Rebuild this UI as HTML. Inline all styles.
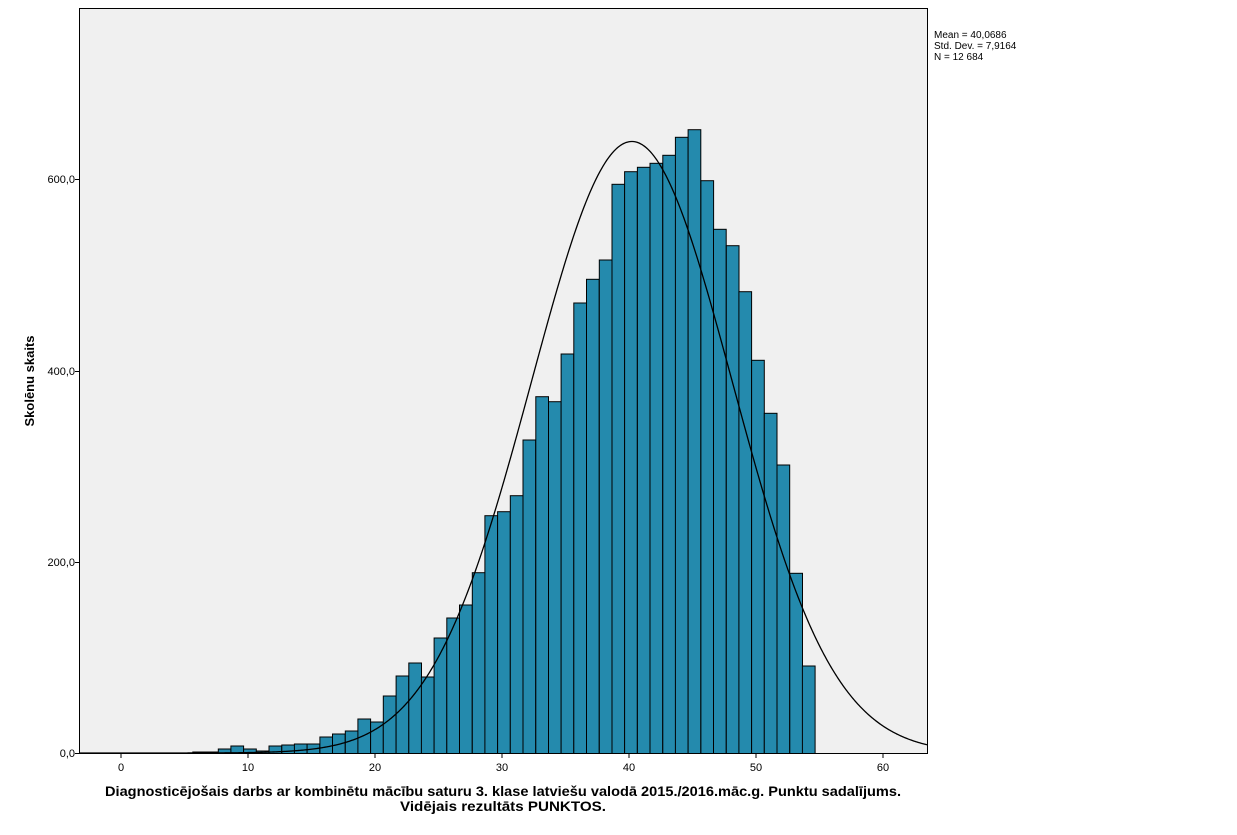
<!DOCTYPE html>
<html><head><meta charset="utf-8"><style>
body{margin:0;background:#fff;width:1237px;height:830px;overflow:hidden;font-family:"Liberation Sans",Arial,sans-serif;}
</style></head><body>
<svg id="s" width="1237" height="830" xmlns="http://www.w3.org/2000/svg" font-family="Liberation Sans, Arial, sans-serif">
<rect x="79.5" y="8.5" width="848" height="745" fill="#f0f0f0" stroke="#000" stroke-width="1"/>
<g id="bars" fill="#248aad" stroke="#000" stroke-width="1"></g>
<path id="curve" fill="none" stroke="#000" stroke-width="1.3"/>
<g font-size="11" fill="#000" text-anchor="end">
<text x="75" y="757">0,0</text>
<text x="75" y="566">200,0</text>
<text x="75" y="375">400,0</text>
<text x="75" y="183">600,0</text>
</g>
<g stroke="#000"><line x1="75" y1="753.5" x2="79" y2="753.5"/><line x1="75" y1="562.5" x2="79" y2="562.5"/><line x1="75" y1="371.5" x2="79" y2="371.5"/><line x1="75" y1="179.5" x2="79" y2="179.5"/></g>
<g id="xt" font-size="11" text-anchor="middle"></g>
<text transform="translate(34,381) rotate(-90)" font-size="13" font-weight="bold" text-anchor="middle">Skolēnu skaits</text>
<text x="503" y="796" font-size="14" font-weight="bold" text-anchor="middle" textLength="796" lengthAdjust="spacingAndGlyphs">Diagnosticējošais darbs ar kombinētu mācību saturu 3. klase latviešu valodā 2015./2016.māc.g. Punktu sadalījums.</text>
<text x="503" y="811" font-size="14" font-weight="bold" text-anchor="middle" textLength="206" lengthAdjust="spacingAndGlyphs">Vidējais rezultāts PUNKTOS.</text>
<g font-size="10"><text x="934" y="38">Mean = 40,0686</text><text x="934" y="49">Std. Dev. = 7,9164</text><text x="934" y="60">N = 12 684</text></g>
</svg>
<script>
var X=function(v){return 121+v*12.7;};
var B=function(v){return 123+v*12.7;};
var tops={6:752,7:752,8:749,9:746,10:749,11:751,12:746,13:745,14:744,15:744,16:737,17:734,18:731,19:719,20:722,21:696,22:676,23:663,24:677,25:638,26:618,27:605,28:572.7,29:515.7,30:511.7,31:495.7,32:440,33:396.7,34:401.7,35:354,36:303,37:279.3,38:260,39:184.3,40:171.7,41:167.3,42:163.3,43:155.3,44:137.3,45:129.7,46:180.7,47:229.3,48:245.7,49:291.7,50:360.3,51:413.3,52:465,53:573.3,54:666};
var g=document.getElementById('bars'),h='';
for(var n in tops){var x=B(n-0.5),t=tops[n];h+='<rect x="'+x.toFixed(1)+'" y="'+t+'" width="12.7" height="'+(753.5-t).toFixed(1)+'"/>';}
g.innerHTML=h;
var m=40.0686,sd=7.9164,N=12684,k=(753-179)/600,d='';
for(var px=80;px<=927;px+=1){var v=(px-123)/12.7;var y=N/(sd*Math.sqrt(2*Math.PI))*Math.exp(-0.5*Math.pow((v-m)/sd,2));d+=(px==80?'M':'L')+px+','+(753-y*k).toFixed(2);}
document.getElementById('curve').setAttribute('d',d);
var xt=document.getElementById('xt'),s='';
for(var i=0;i<=60;i+=10){var x=X(i);s+='<line x1="'+x+'" y1="754" x2="'+x+'" y2="758" stroke="#000"/><text x="'+x+'" y="771">'+i+'</text>';}
xt.innerHTML=s;
</script>
</body></html>
